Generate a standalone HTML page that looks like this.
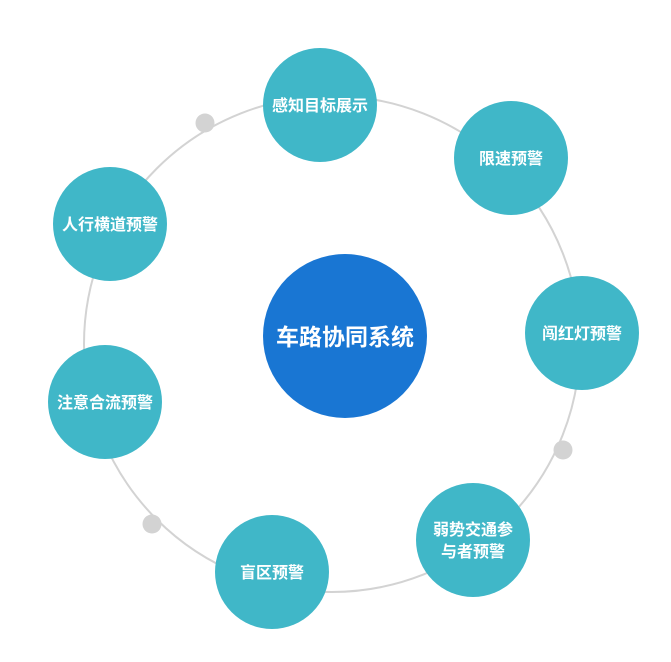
<!DOCTYPE html>
<html><head><meta charset="utf-8"><style>
html,body{margin:0;padding:0;background:#fff;}
svg{display:block;}
text{font-family:"Liberation Sans","Noto Sans CJK SC",sans-serif;font-weight:bold;fill:#fff;text-anchor:middle;}
</style></head><body>
<svg width="671" height="662" viewBox="0 0 671 662">
<circle cx="332" cy="344" r="248" fill="none" stroke="#d3d3d3" stroke-width="2"/>
<circle cx="205" cy="123" r="9.5" fill="#d3d3d3"/>
<circle cx="563" cy="450" r="9.5" fill="#d3d3d3"/>
<circle cx="152" cy="524" r="9.5" fill="#d3d3d3"/>
<g fill="#40b7c8">
<circle cx="320" cy="105" r="57"/>
<circle cx="511" cy="158" r="57"/>
<circle cx="582" cy="333" r="57"/>
<circle cx="473" cy="540" r="57"/>
<circle cx="272" cy="572" r="57"/>
<circle cx="105" cy="402" r="57"/>
<circle cx="110" cy="224" r="57"/>
</g>
<circle cx="345" cy="336" r="82" fill="#1976d3"/>
<g font-size="16">
<text x="320" y="111">感知目标展示</text>
<text x="511" y="164">限速预警</text>
<text x="582" y="339">闯红灯预警</text>
<text x="473" y="535">弱势交通参</text>
<text x="473" y="557">与者预警</text>
<text x="272" y="578">盲区预警</text>
<text x="105" y="408">注意合流预警</text>
<text x="110" y="230">人行横道预警</text>
</g>
<text x="345" y="345" font-size="23">车路协同系统</text>
</svg>
</body></html>
